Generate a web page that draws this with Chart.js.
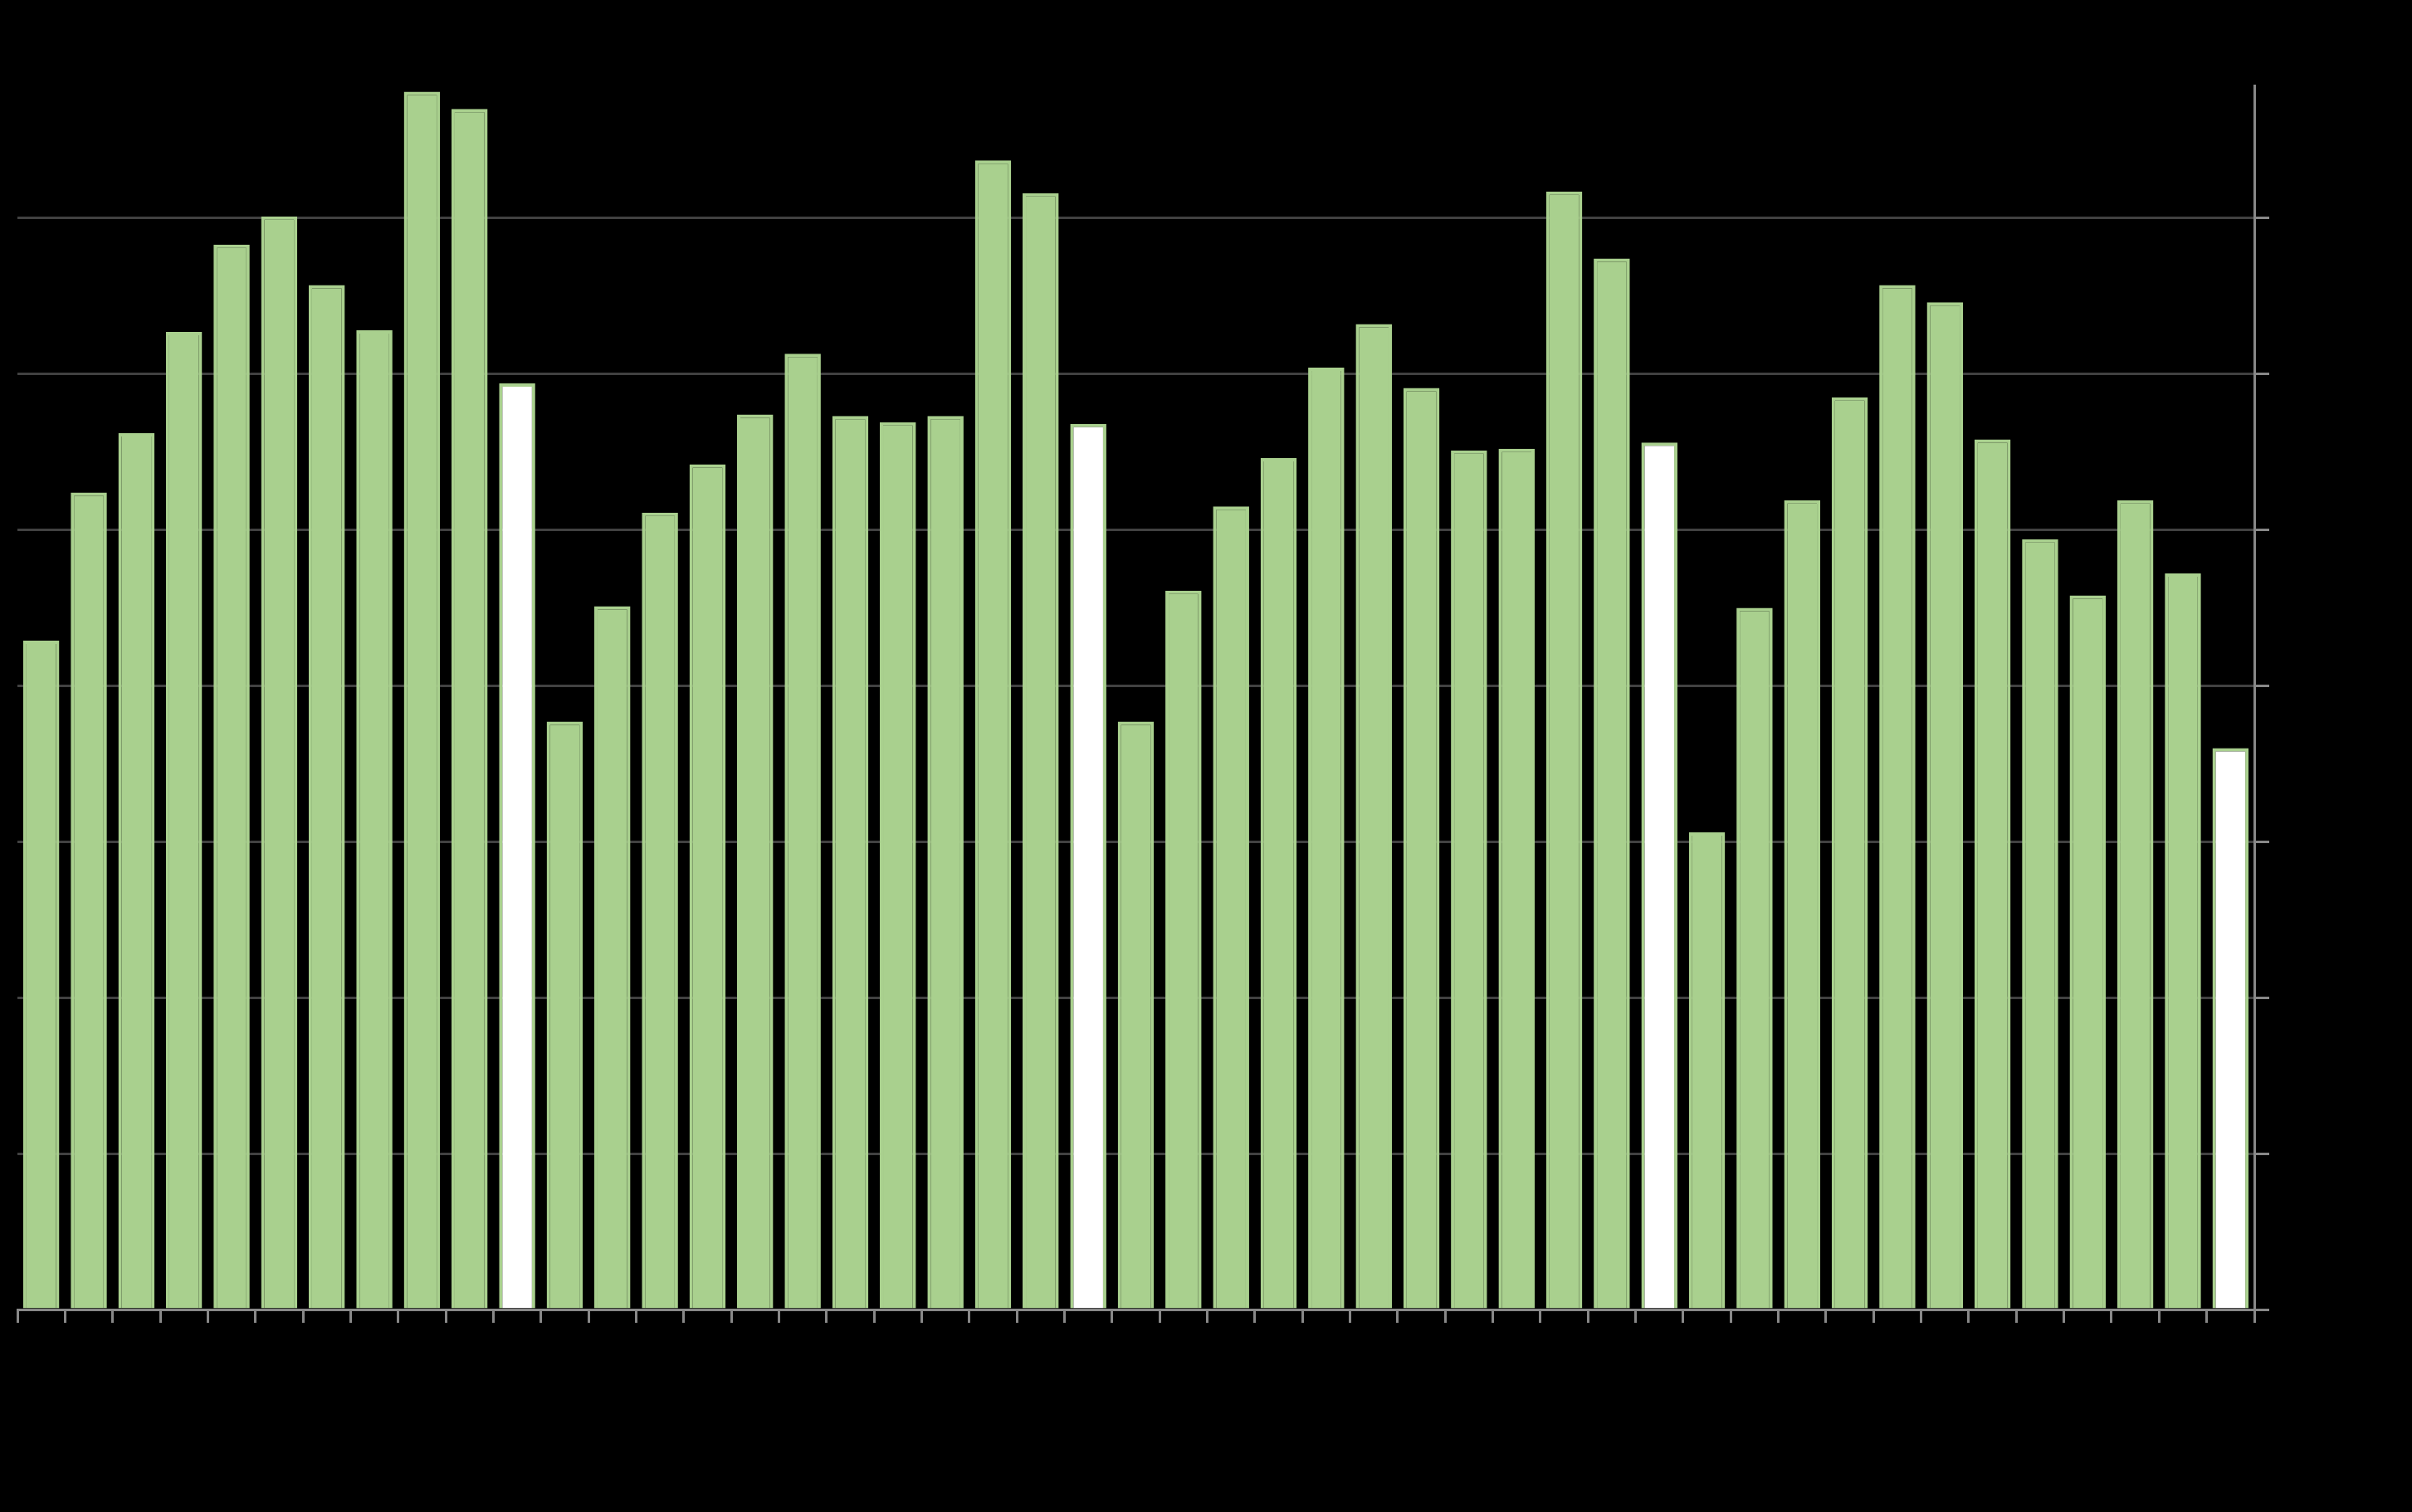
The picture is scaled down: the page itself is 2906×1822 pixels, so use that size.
<!DOCTYPE html>
<html>
<head>
<meta charset="utf-8">
<script src="https://cdn.jsdelivr.net/npm/chart.js@4.4.0/dist/chart.umd.min.js"></script>
<style>
  html, body { margin: 0; padding: 0; background: #000; }
</style>
</head>
<body>
<canvas id="myChart" width="2906" height="1822"></canvas>
<script>
// monthly categories, labels are not visible in the picture
const categories = [
  'Feb','Mar','Apr','May','Jun','Jul','Aug','Sep','Oct','Nov','Dec',
  'Jan','Feb','Mar','Apr','May','Jun','Jul','Aug','Sep','Oct','Nov','Dec',
  'Jan','Feb','Mar','Apr','May','Jun','Jul','Aug','Sep','Oct','Nov','Dec',
  'Jan','Feb','Mar','Apr','May','Jun','Jul','Aug','Sep','Oct','Nov','Dec'
];
const values = [
  4.29, 5.24, 5.62, 6.27, 6.83, 7.01, 6.57, 6.28, 7.81, 7.70, 5.94,
  3.77, 4.51, 5.11, 5.42, 5.74, 6.13, 5.73, 5.69, 5.73, 7.37, 7.16, 5.68,
  3.77, 4.61, 5.15, 5.46, 6.04, 6.32, 5.91, 5.51, 5.52, 7.17, 6.74, 5.56,
  3.06, 4.50, 5.19, 5.85, 6.57, 6.46, 5.58, 4.94, 4.58, 5.19, 4.72, 3.60
];
const whiteBars = [10, 22, 34, 46];
const yTicks = [0, 1, 2, 3, 4, 5, 6, 7];

const green = '#a9d08e';
const fills = values.map((v, i) => whiteBars.includes(i) ? '#ffffff' : green);

const ctx = document.getElementById('myChart').getContext('2d');

var graphData = {
    type: 'bar',
    data: {
        labels: categories,
        datasets: [{
            data: values,
            backgroundColor: fills,
            borderColor: green,
            borderWidth: 4,
            categoryPercentage: 1,
            barPercentage: 0.76
        }]
    },
    options: {
        responsive: false,
        animation: false,
        layout: { padding: { left: 21, top: 103, right: 0, bottom: 0 } },
        plugins: { legend: { display: false }, tooltip: { enabled: false } },
        scales: {
            x: {
                offset: true,
                grid: {
                    offset: true,
                    drawOnChartArea: false,
                    tickLength: 16,
                    tickColor: '#888888',
                    lineWidth: 3
                },
                border: { color: '#888888', width: 3 },
                ticks: { display: false },
                afterFit: s => { s.height = 244; }
            },
            y: {
                position: 'right',
                min: 0,
                max: 7.85,
                afterBuildTicks: s => { s.ticks = yTicks.map(v => ({ value: v })); },
                grid: {
                    color: '#414141',
                    lineWidth: 3,
                    tickLength: 18,
                    tickColor: '#888888'
                },
                border: { color: '#888888', width: 3 },
                ticks: { display: false },
                afterFit: s => { s.width = 190; }
            }
        }
    }
}

const myChart = new Chart(ctx, graphData);
</script>
</body>
</html>
